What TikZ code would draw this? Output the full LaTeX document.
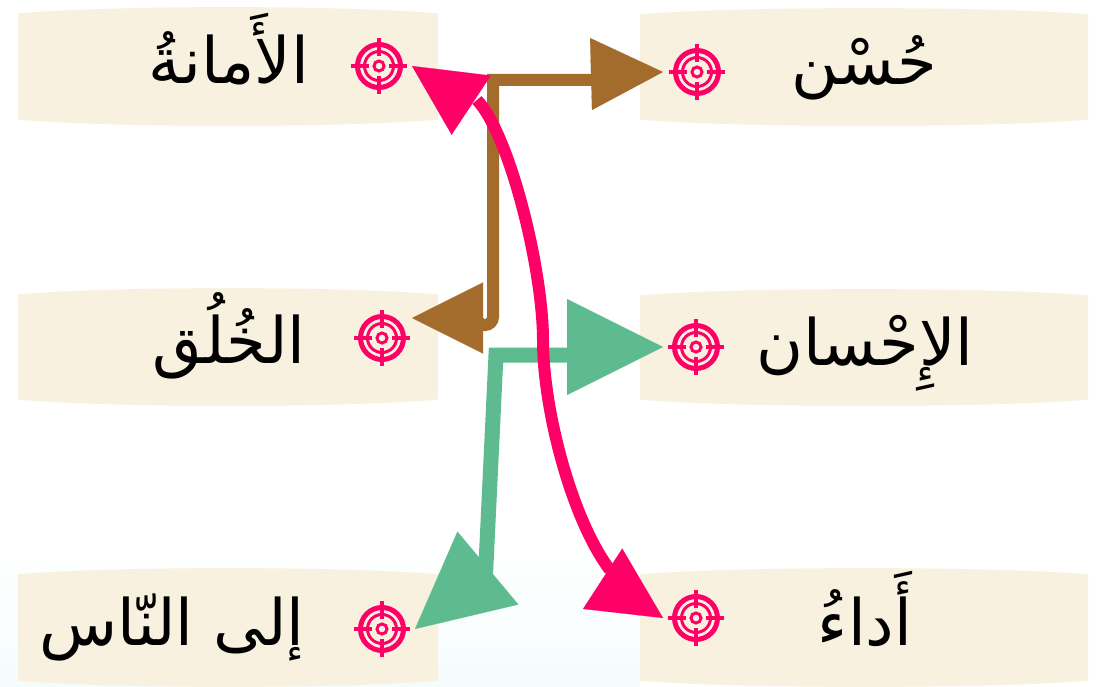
\documentclass[tikz,border=0pt]{standalone}
\usepackage{fontspec}
\usetikzlibrary{arrows.meta}
\TeXXeTstate=1
\newfontfamily\arabicfont[Script=Arabic]{DejaVu Sans}
\definecolor{boxfill}{HTML}{F9F1E0}
\definecolor{pinkc}{HTML}{FF0066}
\definecolor{brownc}{HTML}{A36C2C}
\definecolor{greenc}{HTML}{5EBA8F}
\definecolor{paletint}{HTML}{F5FCFC}
\newcommand{\barrel}[4]{%
  \fill[boxfill] (#1,#2+6.5) .. controls (#1+90,#2-2) and (#3-90,#2-2) .. (#3,#2+6.5)
    -- (#3,#4-6.5) .. controls (#3-90,#4+2) and (#1+90,#4+2) .. (#1,#4-6.5) -- cycle;}
\newcommand{\targeticon}{%
  \draw[pinkc,line width=5pt] (0,0) circle (21.5);
  \draw[pinkc,line width=3pt] (0,0) circle (14.5);
  \draw[pinkc,line width=3pt] (0,0) circle (5);
  \draw[pinkc,line width=3.4pt] (-28,0) -- (-10,0) (10,0) -- (28,0) (0,-28) -- (0,-10) (0,10) -- (0,28);}
\tikzset{
  x=1pt,y=-1pt,
  label text/.style={font=\arabicfont\fontsize{64}{76}\selectfont,text=black,inner sep=0pt,anchor=base},
  anchor node/.style={circle,minimum size=56pt,inner sep=0pt},
  brown line/.style={draw=brownc,line width=12pt},
  green line/.style={draw=greenc,line width=15pt},
  pink line/.style={draw=pinkc,line width=12pt},
  head/.style={line width=0.1pt,-{Triangle[length=#1,width=#1]}},
}
\begin{document}
\begin{tikzpicture}
\useasboundingbox (0,0) rectangle (1109,687);
\fill[white] (0,0) rectangle (1109,687);
\shade[top color=white,bottom color=paletint] (0,540) rectangle (640,687);
\barrel{18}{7}{438}{126}
\barrel{18}{288}{438}{406}
\barrel{18}{568}{438}{687}
\barrel{640}{8}{1088}{126}
\barrel{640}{289}{1088}{406}
\barrel{640}{568}{1088}{687}
\node[label text] (l1) at (229,84) {\beginR الأَمانةُ\endR};
\node[label text] (l2) at (229,363) {\beginR الخُلُق\endR};
\node[label text] (l3) at (172,645) {\beginR إلى النّاس\endR};
\node[label text] (r1) at (864,85) {\beginR حُسْن\endR};
\node[label text] (r2) at (865,365) {\beginR الإِحْسان\endR};
\node[label text] (r3) at (865,645) {\beginR أَداءُ\endR};
\node[anchor node] (t1) at (379,66) {};
\node[anchor node] (t2) at (382,338) {};
\node[anchor node] (t3) at (382,629) {};
\node[anchor node] (t4) at (697,72) {};
\node[anchor node] (t5) at (696,347) {};
\node[anchor node] (t6) at (696,618) {};
\begin{scope}[shift={(t1.center)}]\targeticon\end{scope}
\begin{scope}[shift={(t2.center)}]\targeticon\end{scope}
\begin{scope}[shift={(t3.center)}]\targeticon\end{scope}
\begin{scope}[shift={(t4.center)}]\targeticon\end{scope}
\begin{scope}[shift={(t5.center)}]\targeticon\end{scope}
\begin{scope}[shift={(t6.center)}]\targeticon\end{scope}
% tips
\coordinate (tipA) at ([shift={(33,0)}]t1.center);
\coordinate (tipB) at ([shift={(30,-20)}]t2.center);
\coordinate (tipC) at ([shift={(33,0)}]t3.center);
\coordinate (tipD) at ([shift={(-34,0)}]t4.center);
\coordinate (tipE) at ([shift={(-33,0)}]t5.center);
\coordinate (tipF) at ([shift={(-33,0)}]t6.center);
% brown: tipB <-> tipD
\draw[brown line] (460,325) [rounded corners=8pt] -- (493,325) [sharp corners] -- (493,80) -- (610,80);
\draw[head=71pt,brownc,fill=brownc] (483,318) -- (tipB);
\draw[head=72pt,brownc,fill=brownc] (591,74) -- (tipD);
% green: tipC <-> tipE
\draw[green line] (600,355) -- (496,355) -- (485.5,575);
\draw[head=96pt,greenc,fill=greenc] (567,347) -- (tipE);
\draw[head=95pt,greenc,fill=greenc] (488,568) -- (tipC);
% pink: tipA <-> tipF
\draw[pink line] (477,100) .. controls (510,135) and (543,270) .. (543,340)
  .. controls (543,410) and (572,520) .. (610,570);
\draw[head=71pt,pinkc,fill=pinkc] (471,105) -- (tipA);
\draw[head=72pt,pinkc,fill=pinkc] (603,579) -- (tipF);
\end{tikzpicture}
\end{document}
